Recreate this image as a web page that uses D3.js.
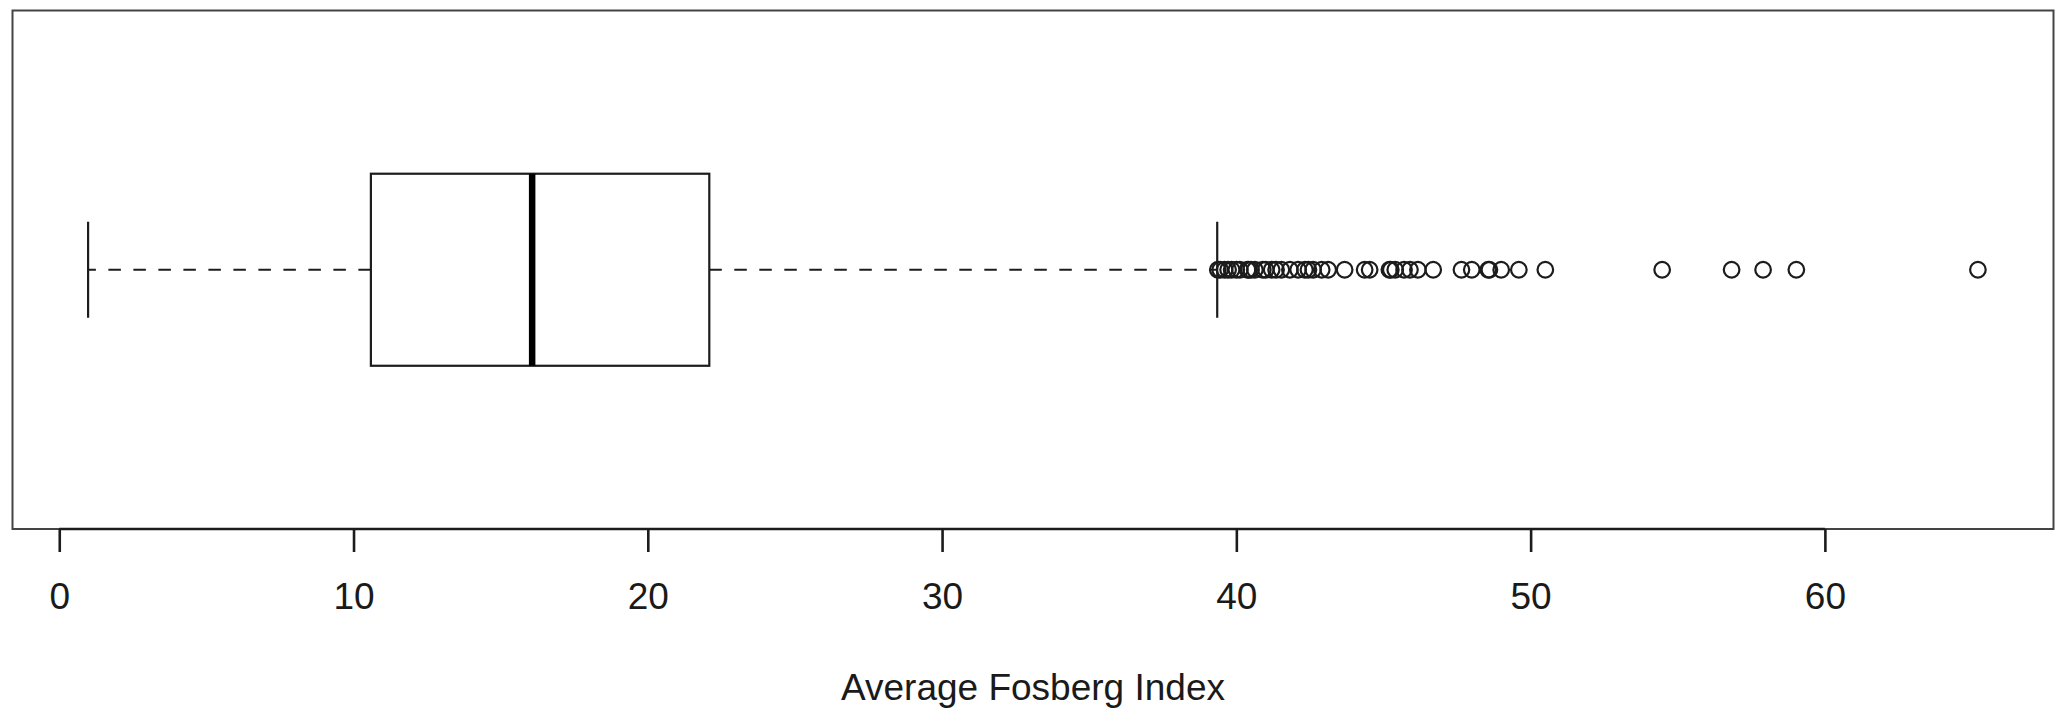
<!DOCTYPE html>
<html>
<head>
<meta charset="utf-8">
<script src="https://cdn.jsdelivr.net/npm/d3@7"></script>
<style>
  html, body { margin: 0; padding: 0; background: #fff; }
  svg { display: block; }
  text { font-family: "Liberation Sans", Arial, sans-serif; fill: #1a1a1a; }
</style>
</head>
<body>
<svg id="chart" width="2056" height="709"></svg>
<script>
// Five-number summary of the average Fosberg index
const whiskerLow = 0.98;
const q1 = 10.59;
const median = 16.07;
const q3 = 22.09;
const whiskerHigh = 39.35;

// Values beyond the upper whisker
const outliers = [
  39.37, 39.45, 39.6, 39.72, 39.84, 40.0, 40.12, 40.38, 40.42, 40.5,
  40.63, 40.9, 41.0, 41.2, 41.35, 41.53, 41.82, 42.1, 42.33, 42.45,
  42.61, 42.9, 43.12, 43.68, 44.36, 44.53, 45.2, 45.25, 45.4, 45.7,
  45.9, 46.17, 46.69, 47.65, 48.0, 48.56, 48.6, 49.0, 49.6, 50.5,
  54.47, 56.83, 57.9, 59.03, 65.2
];

const tickValues = [0, 10, 20, 30, 40, 50, 60];
const axisTitle = "Average Fosberg Index";

const svg = d3.select("#chart");
const plot = { left: 12.5, right: 2053.5, top: 10.5, bottom: 529 };

// Horizontal range padded by 4% on each side, like base R plots
const lo = Math.min(whiskerLow, d3.min(outliers));
const hi = Math.max(whiskerHigh, d3.max(outliers));
const pad = (hi - lo) * 0.04;
const x = d3.scaleLinear().domain([lo - pad, hi + pad]).range([plot.left, plot.right]);

// Single box sits at position 1 on a [0.5, 1.5] band, padded by 4%
const y = d3.scaleLinear().domain([0.5 - 0.04, 1.5 + 0.04]).range([plot.bottom, plot.top]);
const boxHalf = 0.2, capHalf = 0.1;

const ink = "#1c1c1c";
const lw = 2.2;

// Frame
svg.append("rect")
  .attr("x", plot.left).attr("y", plot.top)
  .attr("width", plot.right - plot.left).attr("height", plot.bottom - plot.top)
  .attr("fill", "none").attr("stroke", "#444").attr("stroke-width", 2);

// Whiskers (dashed)
const g = svg.append("g");
[[q1, whiskerLow], [q3, whiskerHigh]].forEach(([a, b]) => {
  g.append("line")
    .attr("x1", x(a)).attr("x2", x(b))
    .attr("y1", y(1)).attr("y2", y(1))
    .attr("stroke", ink).attr("stroke-width", lw)
    .attr("stroke-dasharray", "12.5,12.5");
});

// Staples
[whiskerLow, whiskerHigh].forEach(v => {
  g.append("line")
    .attr("x1", x(v)).attr("x2", x(v))
    .attr("y1", y(1 + capHalf)).attr("y2", y(1 - capHalf))
    .attr("stroke", ink).attr("stroke-width", lw);
});

// Box
g.append("rect")
  .attr("x", x(q1)).attr("y", y(1 + boxHalf))
  .attr("width", x(q3) - x(q1)).attr("height", y(1 - boxHalf) - y(1 + boxHalf))
  .attr("fill", "#fff").attr("stroke", ink).attr("stroke-width", lw);

// Median
g.append("line")
  .attr("x1", x(median)).attr("x2", x(median))
  .attr("y1", y(1 + boxHalf)).attr("y2", y(1 - boxHalf))
  .attr("stroke", "#000").attr("stroke-width", 6.5);

// Outlier points
g.selectAll("circle.out").data(outliers).join("circle")
  .attr("class", "out")
  .attr("cx", d => x(d)).attr("cy", y(1))
  .attr("r", 7.8)
  .attr("fill", "none").attr("stroke", ink).attr("stroke-width", 2.2);

// Bottom axis
const axis = d3.axisBottom(x).tickValues(tickValues).tickSize(23).tickPadding(0).tickFormat(d3.format("d"));
const ax = svg.append("g").attr("transform", `translate(0,${plot.bottom})`).call(axis);
ax.select(".domain")
  .attr("d", `M${x(tickValues[0])},0H${x(tickValues[tickValues.length - 1])}`)
  .attr("stroke", ink).attr("stroke-width", 2.6);
ax.selectAll(".tick line").attr("stroke", ink).attr("stroke-width", 2.6);
ax.selectAll(".tick text")
  .attr("y", 80).attr("dy", null)
  .style("font-family", '"Liberation Sans", Arial, sans-serif')
  .style("font-size", "37px").attr("fill", "#1a1a1a");

// Axis title
svg.append("text")
  .attr("x", (plot.left + plot.right) / 2).attr("y", 700)
  .attr("text-anchor", "middle")
  .style("font-size", "37px")
  .text(axisTitle);
</script>
</body>
</html>
